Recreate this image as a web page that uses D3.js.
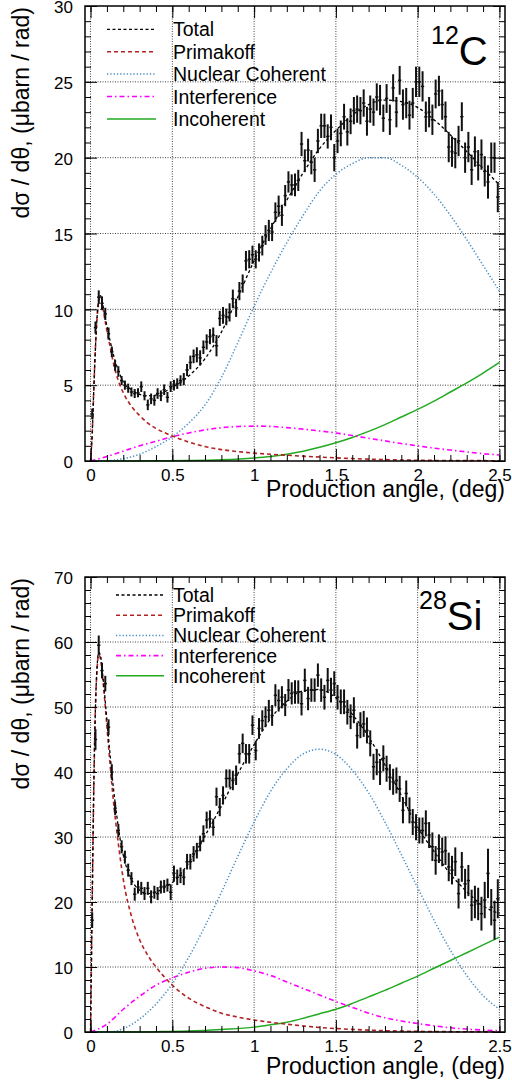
<!DOCTYPE html>
<html>
<head>
<meta charset="utf-8">
<script src="https://d3js.org/d3.v7.min.js"></script>
<style>
  body { margin: 0; background: #fff; }
  svg text { font-family: "Liberation Sans", Arial, Helvetica, sans-serif; fill: #000; }
</style>
</head>
<body>
<svg id="chart" width="512" height="1086"></svg>
<script>
// histogram bins, 0.02 deg wide: centres 0.01 ... 2.49
const BIN_W = 0.02;
const bins = d3.range(125).map(i => +(BIN_W / 2 + i * BIN_W).toFixed(2));

const xTicks = [0, 0.5, 1, 1.5, 2, 2.5];
const c12YTicks = [0, 5, 10, 15, 20, 25, 30];
const si28YTicks = [0, 10, 20, 30, 40, 50, 60, 70];

const legendKeys = ["Total", "Primakoff", "Nuclear Coherent", "Interference", "Incoherent"];

// ---------- 12C ----------
const c12Data = [
  3.1, 8.8, 10.8, 10.4, 9.7, 8.4, 7.2, 6.3, 5.9, 5.3,
  5.0, 4.8, 4.55, 4.45, 4.5, 4.9, 4.3, 3.7, 4.1, 4.0,
  4.45, 4.3, 4.7, 4.2, 4.9, 5.0, 5.1, 5.3, 5.4, 6.0,
  6.5, 6.9, 7.0, 6.8, 7.5, 7.85, 8.2, 8.3, 7.6, 9.4,
  9.6, 9.5, 9.8, 10.7, 10.1, 11.2, 11.7, 13.2, 13.3, 13.6,
  13.3, 13.75, 14.2, 14.9, 15.2, 15.1, 16.4, 16.8, 16.2, 17.5,
  18.4, 18.2, 18.2, 18.5, 20.9, 19.8, 20.5, 19.7, 19.2, 21.1,
  22.1, 22.1, 21.4, 22.0, 20.0, 21.1, 21.6, 22.7, 21.7, 22.4,
  23.1, 23.2, 23.1, 23.6, 22.4, 23.2, 23.0, 24.0, 23.8, 22.6,
  23.9, 22.5, 24.6, 23.0, 25.1, 23.5, 23.6, 22.8, 23.6, 25.0,
  25.0, 24.7, 22.7, 23.0, 22.5, 24.2, 24.4, 23.5, 22.7, 20.7,
  20.4, 20.3, 21.1, 22.7, 20.0, 20.7, 19.2, 20.4, 19.5, 20.2,
  19.1, 18.4, 20.0, 20.0, 17.4
];
const c12Err = [
  0.35, 0.4, 0.45, 0.45, 0.4, 0.4, 0.35, 0.35, 0.35, 0.3,
  0.3, 0.3, 0.3, 0.3, 0.3, 0.35, 0.3, 0.35, 0.35, 0.35,
  0.35, 0.35, 0.35, 0.35, 0.35, 0.35, 0.35, 0.35, 0.4, 0.4,
  0.45, 0.45, 0.5, 0.5, 0.45, 0.5, 0.5, 0.5, 0.7, 0.5,
  0.55, 0.55, 0.6, 0.6, 0.6, 0.6, 0.6, 0.65, 0.6, 0.6,
  0.6, 0.6, 0.65, 0.65, 0.7, 0.6, 0.65, 0.7, 0.7, 0.7,
  0.7, 0.7, 0.75, 0.7, 0.8, 0.75, 0.75, 0.8, 0.8, 0.8,
  0.8, 0.8, 0.8, 0.85, 0.9, 0.8, 0.85, 0.85, 0.9, 0.85,
  0.9, 0.9, 0.9, 0.9, 0.95, 0.9, 0.9, 0.9, 1.0, 0.9,
  0.95, 1.0, 0.9, 1.0, 0.95, 1.0, 1.0, 0.95, 1.0, 1.0,
  1.0, 1.0, 1.0, 1.0, 1.0, 0.95, 1.0, 1.0, 1.0, 1.0,
  1.0, 1.0, 1.0, 0.95, 1.0, 1.0, 1.0, 1.0, 1.0, 1.0,
  1.0, 1.1, 1.0, 1.0, 1.0
];
const c12TotX = [0, 0.01, 0.02, 0.03, 0.04, 0.05, 0.06, 0.07, 0.08, 0.1, 0.12, 0.15, 0.18, 0.2, 0.25, 0.3, 0.35, 0.4, 0.45, 0.5,
  0.6, 0.7, 0.8, 0.9, 1.0, 1.1, 1.2, 1.3, 1.4, 1.5, 1.6, 1.7, 1.8, 1.9, 2.0, 2.1, 2.2, 2.3, 2.4, 2.5];
const c12Tot = [0, 1.8, 4.8, 7.5, 9.5, 10.6, 10.9, 10.6, 10.0, 8.9, 7.9, 6.6, 5.7, 5.2, 4.7, 4.4, 4.3, 4.35, 4.55, 4.85,
  5.6, 6.75, 8.5, 10.8, 13.2, 15.3, 17.2, 19.0, 20.6, 21.8, 22.8, 23.5, 23.8, 23.7, 23.3, 22.5, 21.5, 20.4, 19.3, 18.2];
const c12PrimX = [0, 0.01, 0.02, 0.03, 0.04, 0.05, 0.06, 0.07, 0.08, 0.1, 0.12, 0.15, 0.18, 0.2, 0.25, 0.3, 0.35, 0.4, 0.5,
  0.6, 0.7, 0.8, 0.9, 1.0, 1.2, 1.4, 1.6, 1.8, 2.0, 2.2, 2.5];
const c12Prim = [0, 1.8, 4.8, 7.5, 9.5, 10.5, 10.8, 10.5, 9.8, 8.6, 7.5, 6.0, 5.0, 4.5, 3.6, 3.0, 2.5, 2.15, 1.65,
  1.25, 0.95, 0.75, 0.62, 0.52, 0.38, 0.26, 0.16, 0.09, 0.05, 0.03, 0.02];
const c12CohX = [0, 0.1, 0.2, 0.3, 0.4, 0.5, 0.6, 0.7, 0.8, 0.9, 1.0, 1.1, 1.2, 1.3, 1.4, 1.5, 1.6, 1.7, 1.8, 1.9, 2.0,
  2.1, 2.2, 2.3, 2.4, 2.5];
const c12Coh = [0, 0.02, 0.15, 0.45, 0.95, 1.6, 2.5, 3.7, 5.5, 7.8, 10.2, 12.4, 14.4, 16.2, 17.8, 18.9, 19.6, 20.0, 20.0,
  19.5, 18.7, 17.6, 16.2, 14.6, 12.9, 11.2];
const c12IntX = c12CohX;
const c12Int = [0, 0.3, 0.65, 1.0, 1.3, 1.6, 1.85, 2.05, 2.2, 2.27, 2.3, 2.28, 2.2, 2.1, 1.98, 1.85, 1.68, 1.5, 1.33,
  1.15, 1.0, 0.85, 0.72, 0.6, 0.48, 0.4];
const c12IncX = [0, 0.2, 0.4, 0.6, 0.8, 1.0, 1.1, 1.2, 1.3, 1.4, 1.5, 1.6, 1.7, 1.8, 1.9, 2.0, 2.1, 2.2, 2.3, 2.4, 2.5];
const c12Inc = [0, 0, 0.01, 0.03, 0.08, 0.2, 0.3, 0.45, 0.65, 0.9, 1.2, 1.55, 1.95, 2.4, 2.9, 3.4, 3.95, 4.55, 5.15, 5.8, 6.5];

// ---------- 28Si ----------
const si28Data = [
  17.2, 45.0, 59.5, 55.6, 53.6, 46.9, 40.0, 34.4, 31.0, 28.5,
  26.9, 24.9, 23.6, 21.2, 22.3, 22.1, 21.3, 22.1, 20.8, 21.5,
  21.3, 22.3, 22.4, 22.6, 21.5, 24.4, 23.8, 24.1, 23.8, 26.2,
  26.2, 27.4, 27.9, 29.0, 30.5, 32.6, 32.8, 31.5, 36.2, 34.6,
  36.4, 39.0, 39.0, 38.7, 39.5, 42.8, 44.4, 42.8, 42.8, 47.2,
  43.3, 46.7, 47.9, 48.5, 49.5, 48.7, 51.8, 51.0, 51.5, 50.3,
  52.6, 52.1, 52.3, 52.3, 50.5, 54.1, 51.3, 52.6, 52.6, 54.9,
  52.6, 51.5, 54.1, 52.6, 53.6, 51.5, 50.8, 50.8, 49.2, 48.5,
  49.5, 45.6, 47.2, 47.4, 46.4, 44.4, 40.8, 41.5, 40.0, 42.1,
  40.5, 39.2, 38.5, 38.7, 37.4, 34.1, 36.7, 34.1, 32.3, 31.5,
  31.0, 31.0, 32.1, 30.3, 28.5, 26.4, 28.2, 27.7, 27.9, 25.4,
  24.9, 26.2, 21.3, 25.4, 22.8, 23.3, 19.5, 20.0, 19.7, 18.2,
  20.3, 24.4, 19.2, 17.2, 20.5
];
const si28Err = [
  1.2, 1.6, 1.5, 1.2, 1.2, 1.2, 1.2, 1.0, 1.0, 1.0,
  1.0, 1.0, 1.0, 1.0, 1.0, 1.0, 1.0, 1.0, 1.0, 1.0,
  1.0, 1.0, 1.0, 1.0, 1.2, 1.2, 1.2, 1.2, 1.2, 1.2,
  1.2, 1.2, 1.2, 1.2, 1.3, 1.3, 1.3, 1.3, 1.4, 1.4,
  1.4, 1.4, 1.4, 1.5, 1.5, 1.5, 1.5, 1.5, 1.5, 1.5,
  1.5, 1.6, 1.6, 1.6, 1.6, 1.6, 1.7, 1.7, 1.7, 1.7,
  1.7, 1.7, 1.8, 1.8, 1.8, 1.8, 1.8, 1.8, 1.8, 1.8,
  1.8, 1.9, 1.9, 1.9, 1.9, 1.9, 1.9, 1.9, 1.9, 1.9,
  2.0, 2.0, 2.0, 2.0, 2.0, 2.0, 2.0, 2.0, 2.0, 2.0,
  2.0, 2.0, 2.0, 2.0, 2.0, 2.0, 2.0, 2.0, 2.0, 2.0,
  2.0, 2.0, 2.0, 2.0, 2.2, 2.2, 2.2, 2.2, 2.2, 2.2,
  2.2, 2.2, 2.3, 2.3, 2.3, 2.4, 2.4, 2.5, 2.5, 2.6,
  2.8, 3.8, 2.8, 3.0, 3.0
];
const si28TotX = [0, 0.01, 0.02, 0.03, 0.04, 0.05, 0.06, 0.07, 0.08, 0.1, 0.12, 0.14, 0.16, 0.18, 0.2, 0.25, 0.3, 0.35, 0.4,
  0.45, 0.5, 0.6, 0.7, 0.8, 0.9, 1.0, 1.1, 1.2, 1.3, 1.4, 1.5, 1.6, 1.7, 1.8, 1.9, 2.0, 2.1, 2.2, 2.3, 2.4, 2.5];
const si28Tot = [0, 20, 38, 50, 56.2, 58.4, 58, 56, 53.5, 48, 42.5, 37.5, 33.3, 29.8, 27.2, 23.5, 21.8, 21.3, 21.5,
  22.2, 23.0, 26.0, 30.2, 34.8, 39.7, 44.2, 48.2, 50.9, 52.5, 52.7, 51.4, 48.9, 45.4, 41.1, 36.4, 31.5, 27.8, 24.3, 21.6, 19.4, 18.2];
const si28PrimX = [0, 0.01, 0.02, 0.03, 0.04, 0.05, 0.06, 0.07, 0.08, 0.1, 0.12, 0.14, 0.16, 0.18, 0.2, 0.25, 0.3, 0.35,
  0.4, 0.45, 0.5, 0.6, 0.7, 0.8, 0.9, 1.0, 1.1, 1.2, 1.4, 1.6, 1.8, 2.0, 2.2, 2.5];
const si28Prim = [0, 20, 38, 50, 56, 58, 57.5, 55.5, 53, 47, 41, 35.5, 31, 27, 23.5, 17.8, 14.2, 11.8,
  10.0, 8.5, 7.2, 5.2, 3.9, 2.9, 2.3, 1.85, 1.5, 1.2, 0.7, 0.4, 0.2, 0.1, 0.05, 0.02];
const si28CohX = [0, 0.1, 0.15, 0.2, 0.3, 0.4, 0.5, 0.6, 0.7, 0.8, 0.9, 1.0, 1.1, 1.2, 1.3, 1.4, 1.5, 1.6, 1.7, 1.8, 1.9,
  2.0, 2.1, 2.2, 2.3, 2.4, 2.5];
const si28Coh = [0, 0, 0.1, 0.5, 2.0, 4.3, 7.4, 11.5, 16.3, 21.5, 27, 32.3, 37, 40.5, 42.8, 43.5, 42.7, 40.3, 36.8, 32.3,
  27.3, 22.2, 17.2, 12.6, 8.7, 5.6, 3.5];
const si28IntX = [0, 0.1, 0.2, 0.3, 0.4, 0.5, 0.6, 0.7, 0.8, 0.9, 1.0, 1.1, 1.2, 1.3, 1.4, 1.5, 1.6, 1.7, 1.8, 1.9, 2.0,
  2.1, 2.2, 2.3, 2.4, 2.5];
const si28Int = [0, 1.2, 3.5, 5.5, 7.2, 8.3, 9.2, 9.8, 10.0, 9.9, 9.4, 8.7, 7.7, 6.7, 5.7, 4.7, 3.8, 2.9, 2.2, 1.7, 1.3,
  0.95, 0.65, 0.45, 0.3, 0.2];
const si28IncX = [0, 0.2, 0.4, 0.6, 0.8, 1.0, 1.1, 1.2, 1.3, 1.4, 1.5, 1.6, 1.7, 1.8, 1.9, 2.0, 2.1, 2.2, 2.3, 2.4, 2.5];
const si28Inc = [0, 0, 0.05, 0.15, 0.4, 0.75, 1.1, 1.5, 2.1, 2.8, 3.5, 4.4, 5.4, 6.4, 7.5, 8.6, 9.8, 11.0, 12.2, 13.4, 14.6];

// line styles, same order as legendKeys
const styles = [
  { color: "#000000", width: 1.3, dash: "3,2.5" },
  { color: "#b22222", width: 1.6, dash: "4,3" },
  { color: "#4a8fc4", width: 1.5, dash: "1.3,2" },
  { color: "#ff00ff", width: 1.6, dash: "5,3,1.5,3" },
  { color: "#22aa22", width: 1.5, dash: null }
];

const svg = d3.select("#chart");
const X0 = 85, X1 = 505;
const x = d3.scaleLinear().domain([-0.034, 2.534]).range([X0, X1]);
const FONT = '"Liberation Sans", Arial, Helvetica, sans-serif';

function drawPanel(p) {
  const y = d3.scaleLinear().domain([0, p.yMax]).range([p.bottom, p.top]);
  const g = svg.append("g");

  // grid
  g.append("g").selectAll("line").data(xTicks).join("line")
    .attr("x1", d => x(d)).attr("x2", d => x(d))
    .attr("y1", p.top).attr("y2", p.bottom)
    .attr("stroke", "#444").attr("stroke-dasharray", "1,1.5");
  g.append("g").selectAll("line").data(p.yTicks.filter(v => v > 0 && v < p.yMax)).join("line")
    .attr("x1", X0).attr("x2", X1)
    .attr("y1", d => y(d)).attr("y2", d => y(d))
    .attr("stroke", "#444").attr("stroke-dasharray", "1,1.5");

  // theory curves: components first, then total
  const line = d3.line().x(d => x(d[0])).y(d => y(d[1])).curve(d3.curveMonotoneX);
  const order = [4, 3, 2, 1, 0];
  order.forEach(i => {
    const c = p.curves[i], st = styles[i];
    g.append("path")
      .datum(d3.zip(c[0], c[1]))
      .attr("fill", "none")
      .attr("stroke", st.color)
      .attr("stroke-width", st.width)
      .attr("stroke-dasharray", st.dash)
      .attr("d", line);
  });

  // data points with error bars
  const pts = bins.map((b, i) => ({ b: b, v: p.data[i], e: p.err[i] }));
  const dg = g.append("g").attr("stroke", "#111");
  dg.selectAll(".ev").data(pts).join("line")
    .attr("x1", d => x(d.b)).attr("x2", d => x(d.b))
    .attr("y1", d => y(d.v - d.e)).attr("y2", d => y(d.v + d.e))
    .attr("stroke-width", 2);
  dg.selectAll(".eh").data(pts).join("line")
    .attr("x1", d => x(d.b - BIN_W / 2)).attr("x2", d => x(d.b + BIN_W / 2))
    .attr("y1", d => y(d.v)).attr("y2", d => y(d.v))
    .attr("stroke-width", 1.5);

  // axes (ticks inside the frame, ROOT style)
  const MAJ = 12, MIN = 6;
  const fmt = d => d === 0 ? "0" : String(d);
  const xMinor = d3.range(0, 2.55, 0.1);
  const yMinor = d3.range(0, p.yMax + 0.001, p.yMinorStep);
  function ax(gen, tr) {
    return g.append("g").attr("transform", tr).call(gen)
      .attr("font-size", 17).attr("font-family", FONT)
      .call(s => s.select(".domain").remove());
  }
  ax(d3.axisBottom(x).tickValues(xTicks).tickSize(-MAJ).tickPadding(8).tickFormat(fmt), `translate(0,${p.bottom})`);
  ax(d3.axisBottom(x).tickValues(xMinor).tickSize(-MIN).tickFormat(""), `translate(0,${p.bottom})`);
  ax(d3.axisTop(x).tickValues(xTicks).tickSize(-MAJ).tickFormat(""), `translate(0,${p.top})`);
  ax(d3.axisTop(x).tickValues(xMinor).tickSize(-MIN).tickFormat(""), `translate(0,${p.top})`);
  ax(d3.axisLeft(y).tickValues(p.yTicks).tickSize(-MAJ).tickPadding(12).tickFormat(fmt), `translate(${X0},0)`)
    .selectAll("text").attr("dy", "0.4em");
  ax(d3.axisLeft(y).tickValues(yMinor).tickSize(-MIN).tickFormat(""), `translate(${X0},0)`);
  ax(d3.axisRight(y).tickValues(p.yTicks).tickSize(-MAJ).tickFormat(""), `translate(${X1},0)`);
  ax(d3.axisRight(y).tickValues(yMinor).tickSize(-MIN).tickFormat(""), `translate(${X1},0)`);

  // frame
  g.append("rect")
    .attr("x", X0).attr("y", p.top)
    .attr("width", X1 - X0).attr("height", p.bottom - p.top)
    .attr("fill", "none").attr("stroke", "#000").attr("stroke-width", 1.5);

  // axis titles
  g.append("text")
    .attr("x", X1).attr("y", p.bottom + p.xTitleDy)
    .attr("text-anchor", "end").attr("font-size", 23)
    .text("Production angle, (deg)");
  g.append("text")
    .attr("transform", `translate(29,${p.top + 1}) rotate(-90)`)
    .attr("text-anchor", "end").attr("font-size", 23)
    .text("dσ / dθ, (μbarn / rad)");

  // legend
  legendKeys.forEach((k, i) => {
    const ly = p.leg.y0 + i * p.leg.dy, st = styles[i];
    g.append("line")
      .attr("x1", p.leg.x1).attr("x2", p.leg.x2)
      .attr("y1", ly).attr("y2", ly)
      .attr("stroke", st.color).attr("stroke-width", st.width)
      .attr("stroke-dasharray", st.dash);
    g.append("text")
      .attr("x", 173).attr("y", ly + 7)
      .attr("font-size", 19.5)
      .text(k);
  });

  // nucleus label
  const lab = g.append("text")
    .attr("x", p.labX).attr("y", p.labY)
    .attr("font-size", 40);
  lab.append("tspan").attr("font-size", 25).attr("dy", -21).text(p.sup);
  lab.append("tspan").attr("dy", 21).text(p.sym);
}

drawPanel({
  top: 6, bottom: 461, yMax: 30, yTicks: c12YTicks, yMinorStep: 1,
  data: c12Data, err: c12Err,
  curves: [[c12TotX, c12Tot], [c12PrimX, c12Prim], [c12CohX, c12Coh], [c12IntX, c12Int], [c12IncX, c12Inc]],
  xTitleDy: 36,
  leg: { y0: 29.3, dy: 22.4, x1: 107, x2: 156 },
  labX: 431, labY: 65, sup: "12", sym: "C"
});

drawPanel({
  top: 577, bottom: 1032, yMax: 70, yTicks: si28YTicks, yMinorStep: 2,
  data: si28Data, err: si28Err,
  curves: [[si28TotX, si28Tot], [si28PrimX, si28Prim], [si28CohX, si28Coh], [si28IntX, si28Int], [si28IncX, si28Inc]],
  xTitleDy: 42,
  leg: { y0: 595, dy: 20.2, x1: 116, x2: 164 },
  labX: 419, labY: 630, sup: "28", sym: "Si"
});
</script>
</body>
</html>
